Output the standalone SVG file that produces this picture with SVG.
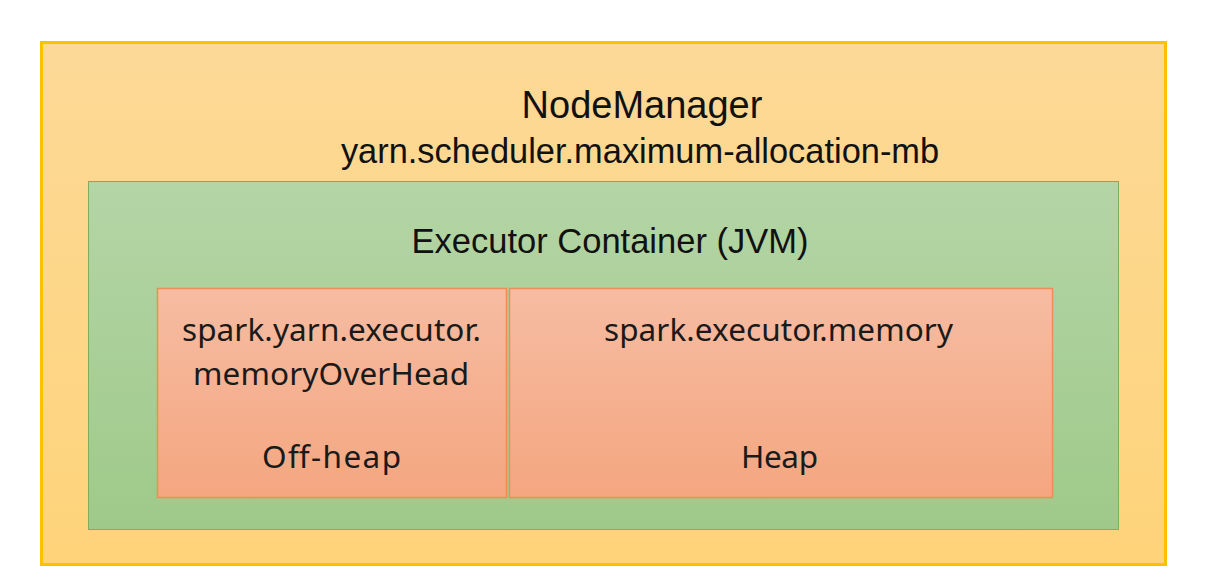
<svg xmlns="http://www.w3.org/2000/svg" width="1207" height="587" viewBox="0 0 1207 587">
<style>
.t1{font-family:"Liberation Sans",Arial,sans-serif;fill:#111;text-anchor:middle}
.t2{font-family:"Noto Sans","DejaVu Sans",sans-serif;fill:#1a1a1a;text-anchor:middle;font-size:31.5px}
</style>
<defs>
<linearGradient id="gY" x1="0" y1="0" x2="0" y2="1"><stop offset="0" stop-color="#FCD997"/><stop offset="1" stop-color="#FED37A"/></linearGradient>
<linearGradient id="gG" x1="0" y1="0" x2="0" y2="1"><stop offset="0" stop-color="#B4D5A6"/><stop offset="1" stop-color="#9FC98A"/></linearGradient>
<linearGradient id="gO" x1="0" y1="0" x2="0" y2="1"><stop offset="0" stop-color="#F6BCA2"/><stop offset="1" stop-color="#F4A680"/></linearGradient>
</defs>
<rect width="1207" height="587" fill="#fff"/>
<g id="nodemanager">
<rect x="41.5" y="42.5" width="1124" height="522" fill="url(#gY)" stroke="#FFC000" stroke-width="3"/>
<text class="t1" x="642" y="118" font-size="38">NodeManager</text>
<text class="t1" x="640" y="163" font-size="34.4">yarn.scheduler.maximum-allocation-mb</text>
</g>
<g id="executor">
<rect x="88.5" y="181.5" width="1030" height="348" fill="url(#gG)" stroke="#7DAF5A" stroke-width="1"/>
<text class="t1" x="610" y="253" font-size="34.5">Executor Container (JVM)</text>
</g>
<g id="offheap">
<rect x="157.5" y="288.5" width="349" height="209" fill="url(#gO)" stroke="#EE8D55" stroke-width="1.5"/>
<text class="t2" x="331.5" y="341" textLength="299" lengthAdjust="spacing">spark.yarn.executor.</text>
<text class="t2" x="331" y="385" textLength="276" lengthAdjust="spacing">memoryOverHead</text>
<text class="t2" x="331.5" y="468" textLength="139" lengthAdjust="spacing">Off-heap</text>
</g>
<g id="heap">
<rect x="509.5" y="288.5" width="543" height="209" fill="url(#gO)" stroke="#EE8D55" stroke-width="1.5"/>
<text class="t2" x="778.5" y="341" textLength="349" lengthAdjust="spacing">spark.executor.memory</text>
<text class="t2" x="779.5" y="468" textLength="77" lengthAdjust="spacing">Heap</text>
</g>
<g id="connectors"/>
</svg>
